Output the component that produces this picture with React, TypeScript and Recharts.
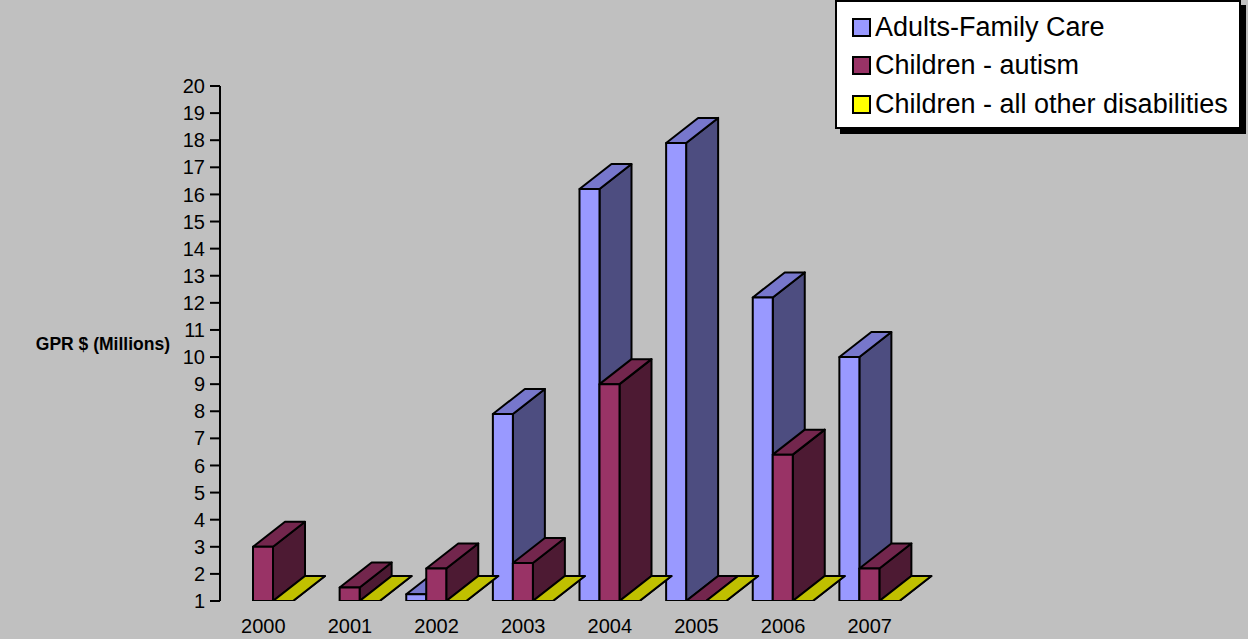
import { BarChart, Bar, XAxis, YAxis } from 'recharts'

// GPR $ (Millions) by year
const years = ['2000', '2001', '2002', '2003', '2004', '2005', '2006', '2007']
const adultsFamilyCare = [null, null, 1.25, 7.9, 16.2, 17.9, 12.2, 10.0]
const childrenAutism = [3.0, 1.5, 2.2, 2.4, 9.0, 0, 6.4, 2.2]
const childrenOther = [0, 0, 0, 0, 0, 0, 0, 0]
const yTicks = [1, 2, 3, 4, 5, 6, 7, 8, 9, 10, 11, 12, 13, 14, 15, 16, 17, 18, 19, 20]

const data = years.map((year, i) => ({
  year,
  adults: adultsFamilyCare[i],
  autism: childrenAutism[i],
  other: childrenOther[i],
}))

const FONT = '"Liberation Sans", Arial, sans-serif'
const DX = 32
const DY = -25

type Shade = { front: string; top: string; side: string }

const SHADES: Record<string, Shade> = {
  adults: { front: '#9999ff', top: '#7777cc', side: '#4d4d80' },
  autism: { front: '#993366', top: '#73264d', side: '#4d1a33' },
  other: { front: '#ffff00', top: '#c0c000', side: '#808000' },
}

// 3D column: front face, top and right side, built from the bar rect Recharts computes
const make3D = (key: string) => (props: any) => {
  const { x, y, width, height, payload } = props
  const value = payload?.[key]
  if (value == null) return <g />
  const a = y
  const b = y + height
  const base = value < 1 ? Math.min(a, b) : Math.max(a, b)
  const top = value < 1 ? base : Math.min(a, b)
  const w = width
  const c = SHADES[key]
  const stroke = { stroke: '#000', strokeWidth: 2, strokeLinejoin: 'round' as const }
  return (
    <g>
      <path
        d={`M${x + w},${top} L${x + w + DX},${top + DY} L${x + w + DX},${base + DY} L${x + w},${base} Z`}
        fill={c.side}
        {...stroke}
      />
      <path
        d={`M${x},${top} L${x + w},${top} L${x + w + DX},${top + DY} L${x + DX},${top + DY} Z`}
        fill={c.top}
        {...stroke}
      />
      {base - top > 0 && (
        <rect x={x} y={top} width={w} height={base - top} fill={c.front} {...stroke} />
      )}
    </g>
  )
}

const legendItems = [
  { label: 'Adults-Family Care', color: '#9999ff' },
  { label: 'Children - autism', color: '#993366' },
  { label: 'Children - all other disabilities', color: '#ffff00' },
]

export default function App() {
  return (
    <div
      style={{
        position: 'absolute',
        left: 0,
        top: 0,
        width: 1248,
        height: 639,
        background: '#c0c0c0',
        fontFamily: FONT,
        overflow: 'hidden',
      }}
    >
      <BarChart
        width={1248}
        height={639}
        data={data}
        margin={{ top: 86, right: 335, bottom: 8, left: 160 }}
        barSize={20}
        barGap={0}
      >
        <XAxis
          dataKey="year"
          axisLine={false}
          tickLine={false}
          tickSize={0}
          tickMargin={18}
          height={30}
          tick={{ fontSize: 20, fill: '#000', fontFamily: FONT }}
        />
        <YAxis
          type="number"
          domain={[1, 20]}
          ticks={yTicks}
          allowDataOverflow
          interval={0}
          width={60}
          tickSize={10}
          tickMargin={5}
          axisLine={{ stroke: '#000', strokeWidth: 2 }}
          tickLine={{ stroke: '#000', strokeWidth: 2 }}
          tick={{ fontSize: 20, fill: '#000', fontFamily: FONT }}
          label={{
            value: 'GPR $ (Millions)',
            position: 'left',
            offset: -10,
            style: { fontSize: 17.5, fontWeight: 'bold', fill: '#000', fontFamily: FONT, textAnchor: 'end' },
          }}
        />
        <Bar dataKey="adults" shape={make3D('adults')} isAnimationActive={false} />
        <Bar dataKey="autism" shape={make3D('autism')} isAnimationActive={false} />
        <Bar dataKey="other" shape={make3D('other')} isAnimationActive={false} />
      </BarChart>

      <div
        style={{
          position: 'absolute',
          left: 835,
          top: 0,
          width: 402,
          height: 119,
          background: '#fff',
          border: '2px solid #000',
          boxShadow: '5px 5px 0 #000',
          paddingTop: 6,
          boxSizing: 'content-box',
        }}
      >
        {legendItems.map(item => (
          <div
            key={item.label}
            style={{ display: 'flex', alignItems: 'center', height: 38.5, paddingLeft: 15 }}
          >
            <span
              style={{
                width: 15,
                height: 15,
                background: item.color,
                border: '2px solid #000',
                marginRight: 4,
                flexShrink: 0,
              }}
            />
            <span style={{ fontSize: 27, color: '#000', whiteSpace: 'nowrap', lineHeight: 1 }}>
              {item.label}
            </span>
          </div>
        ))}
      </div>
    </div>
  )
}
